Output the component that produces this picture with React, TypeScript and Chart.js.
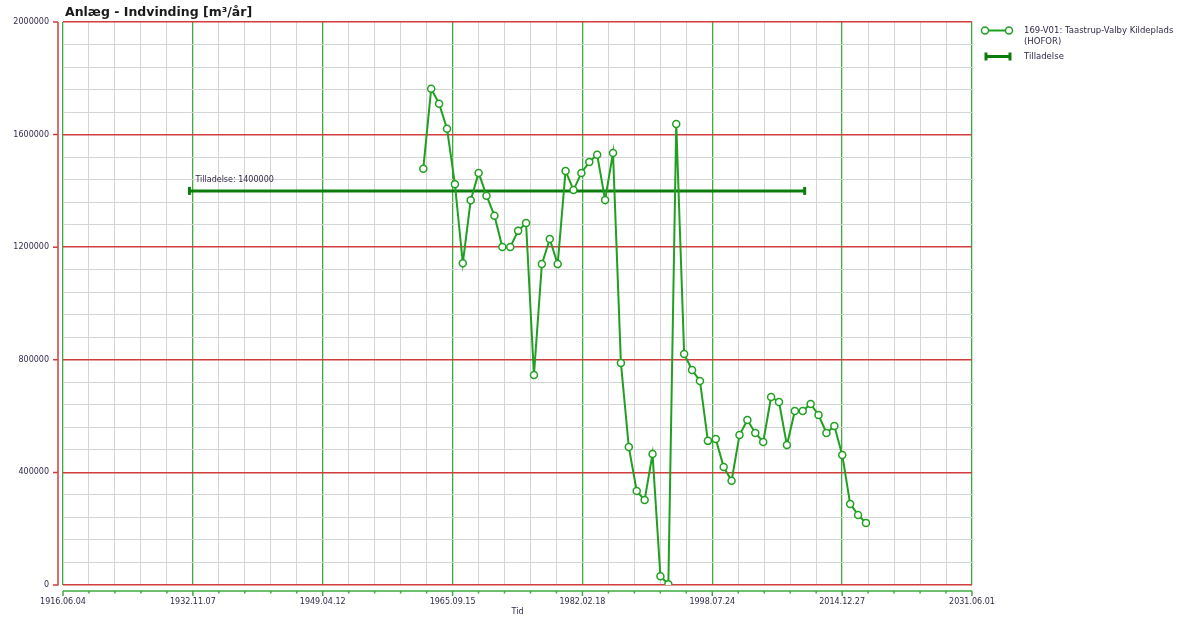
import React, { useEffect, useRef } from "react";
import { Chart, registerables } from "chart.js";

Chart.register(...registerables);

// ---- data ----
const years = [
  1962, 1963, 1964, 1965, 1966, 1967, 1968, 1969, 1970, 1971,
  1972, 1973, 1974, 1975, 1976, 1977, 1978, 1979, 1980, 1981,
  1982, 1983, 1984, 1985, 1986, 1987, 1988, 1989, 1990, 1991,
  1992, 1993, 1994, 1995, 1996, 1997, 1998, 1999, 2000, 2001,
  2002, 2003, 2004, 2005, 2006, 2007, 2008, 2009, 2010, 2011,
  2012, 2013, 2014, 2015, 2016, 2017, 2018,
];
const volumes = [
  1479000, 1763000, 1710000, 1621000, 1424000, 1143000, 1367000, 1464000, 1383000, 1312000,
  1201000, 1201000, 1258000, 1286000, 746000, 1140000, 1229000, 1140000, 1471000, 1403000,
  1464000, 1503000, 1528000, 1368000, 1535000, 789000, 490000, 334000, 302000, 465000,
  31000, 3000, 1638000, 821000, 764000, 725000, 512000, 519000, 419000, 370000,
  533000, 586000, 540000, 508000, 668000, 650000, 497000, 618000, 618000, 643000,
  604000, 540000, 565000, 462000, 288000, 249000, 220000,
];
const permitStart = [1932, 6, 1];
const permitEnd = [2010, 4, 1];
const permitValue = 1400000;

const yTickLabels = [0, 400000, 800000, 1200000, 1600000, 2000000];
const xTickLabels = [
  "1916.06.04", "1932.11.07", "1949.04.12", "1965.09.15",
  "1982.02.18", "1998.07.24", "2014.12.27", "2031.06.01",
];

const seriesName = "169-V01: Taastrup-Valby Kildeplads";
const seriesName2 = "(HOFOR)";
const permitName = "Tilladelse";
const titleText = "Anlæg - Indvinding [m³/år]";
const xTitle = "Tid";

// ---- helpers ----
const EPOCH = Date.UTC(1916, 5, 4);
const DAY = 86400000;
const dayOf = (y: number, m: number, d: number) => Math.round((Date.UTC(y, m - 1, d) - EPOCH) / DAY);
const X_MAX = 42000;
const X_STEP = 1200;

const RED = "#d23c3c";
const GREEN_GRID = "#3fab3f";
const GRAY = "#d4d4d4";
const LINE_GREEN = "#20a020";
const PERMIT_GREEN = "#0c7c0c";
const TEXT = "#33294a";
const FONT = "'DejaVu Sans', Verdana, sans-serif";

const axesPlugin = {
  id: "customAxes",
  afterDraw(chart: any) {
    const { ctx, chartArea, scales } = chart;
    const xs = scales.x;
    const ys = scales.y;
    ctx.save();
    // y axis line (offset left of plot)
    const ax = chartArea.left - 5;
    ctx.strokeStyle = RED;
    ctx.lineWidth = 1.5;
    ctx.beginPath();
    ctx.moveTo(ax, chartArea.top);
    ctx.lineTo(ax, chartArea.bottom + 0.5);
    yTickLabels.forEach((v) => {
      const py = ys.getPixelForValue(v);
      ctx.moveTo(ax - 5, py);
      ctx.lineTo(ax, py);
    });
    ctx.stroke();

    // x axis line (offset below plot)
    const ay = chartArea.bottom + 6;
    ctx.strokeStyle = GREEN_GRID;
    ctx.lineWidth = 1.5;
    ctx.beginPath();
    ctx.moveTo(chartArea.left, ay);
    ctx.lineTo(chartArea.right, ay);
    for (let i = 0; i * X_STEP <= X_MAX; i++) {
      const px = xs.getPixelForValue(i * X_STEP);
      const len = i % 5 === 0 ? 5 : 2.5;
      ctx.moveTo(px, ay);
      ctx.lineTo(px, ay + len);
    }
    ctx.stroke();

    // permit label
    const sx = xs.getPixelForValue(dayOf(permitStart[0], permitStart[1], permitStart[2]));
    const sy = ys.getPixelForValue(permitValue);
    ctx.fillStyle = TEXT;
    ctx.font = `8px ${FONT}`;
    ctx.textAlign = "left";
    ctx.textBaseline = "middle";
    ctx.fillText(`${permitName}: ${permitValue}`, sx + 6, sy - 11);
    ctx.restore();
  },
};

export default function App() {
  const canvasRef = useRef<HTMLCanvasElement | null>(null);

  useEffect(() => {
    const canvas = canvasRef.current;
    if (!canvas) return;
    Chart.defaults.font.family = FONT;

    const seriesData = years.map((y, i) => ({ x: dayOf(y, 1, 1), y: volumes[i] }));
    const permitData = [
      { x: dayOf(permitStart[0], permitStart[1], permitStart[2]), y: permitValue },
      { x: dayOf(permitEnd[0], permitEnd[1], permitEnd[2]), y: permitValue },
    ];

    const chart = new Chart(canvas, {
      type: "line",
      data: {
        datasets: [
          {
            label: seriesName,
            data: seriesData,
            borderColor: LINE_GREEN,
            borderWidth: 2,
            pointRadius: 3.5,
            pointBackgroundColor: "#ffffff",
            pointBorderColor: LINE_GREEN,
            pointBorderWidth: 1.5,
            tension: 0,
          },
          {
            label: permitName,
            data: permitData,
            borderColor: PERMIT_GREEN,
            borderWidth: 3,
            pointStyle: "line",
            rotation: 90,
            pointRadius: 4,
            pointBorderColor: PERMIT_GREEN,
            pointBorderWidth: 3,
            tension: 0,
          },
        ],
      },
      options: {
        animation: false,
        responsive: false,
        events: [],
        layout: { padding: { left: 0, right: 206, top: 22, bottom: 0 } },
        plugins: {
          legend: { display: false },
          title: { display: false },
          tooltip: { enabled: false },
        },
        scales: {
          x: {
            type: "linear",
            min: 0,
            max: X_MAX,
            border: { display: false },
            grid: {
              drawTicks: false,
              color: (c: any) => (c.index % 5 === 0 ? GREEN_GRID : GRAY),
              lineWidth: (c: any) => (c.index % 5 === 0 ? 1.3 : 1),
            },
            ticks: {
              stepSize: X_STEP,
              autoSkip: false,
              maxRotation: 0,
              minRotation: 0,
              padding: 12,
              color: TEXT,
              font: { size: 8, family: FONT },
              callback: (_v: any, i: number) => (i % 5 === 0 ? xTickLabels[i / 5] : ""),
            },
            title: {
              display: true,
              text: xTitle,
              color: TEXT,
              font: { size: 8, family: FONT },
              padding: { top: 0, bottom: 0 },
            },
            afterFit: (s: any) => {
              s.height = 32;
            },
          },
          y: {
            type: "linear",
            min: 0,
            max: 2000000,
            border: { display: false },
            grid: {
              drawTicks: false,
              color: (c: any) => (c.tick && c.tick.value % 400000 === 0 ? RED : GRAY),
              lineWidth: (c: any) => (c.tick && c.tick.value % 400000 === 0 ? 1.5 : 1),
            },
            ticks: {
              stepSize: 80000,
              autoSkip: false,
              padding: 14,
              color: TEXT,
              font: { size: 8, family: FONT },
              callback: (v: any) => (yTickLabels.includes(v) ? String(v) : ""),
            },
            afterFit: (s: any) => {
              s.width = 63;
            },
          },
        },
      },
      plugins: [axesPlugin],
    } as any);

    return () => chart.destroy();
  }, []);

  const legendText: React.CSSProperties = {
    position: "absolute",
    left: 1024,
    fontFamily: FONT,
    fontSize: 8.5,
    color: TEXT,
    lineHeight: "10px",
    whiteSpace: "nowrap",
  };

  return (
    <div
      style={{
        position: "fixed",
        left: 0,
        top: 0,
        width: 1178,
        height: 617,
        background: "#ffffff",
        overflow: "hidden",
      }}
    >
      <canvas ref={canvasRef} width={1178} height={617} style={{ position: "absolute", left: 0, top: 0 }} />
      <div
        style={{
          position: "absolute",
          left: 65,
          top: 4,
          fontFamily: FONT,
          fontWeight: "bold",
          fontSize: 12.5,
          color: "#1a1a1a",
          whiteSpace: "nowrap",
          lineHeight: "16px",
        }}
      >
        {titleText}
      </div>
      <svg style={{ position: "absolute", left: 978, top: 22 }} width={40} height={45}>
        <line x1={7} y1={8.5} x2={31} y2={8.5} stroke={LINE_GREEN} strokeWidth={2} />
        <circle cx={7} cy={8.5} r={3.5} fill="#fff" stroke={LINE_GREEN} strokeWidth={1.5} />
        <circle cx={31} cy={8.5} r={3.5} fill="#fff" stroke={LINE_GREEN} strokeWidth={1.5} />
        <line x1={8} y1={34.5} x2={32} y2={34.5} stroke={PERMIT_GREEN} strokeWidth={3} />
        <line x1={8} y1={30.5} x2={8} y2={38.5} stroke={PERMIT_GREEN} strokeWidth={3} />
        <line x1={32} y1={30.5} x2={32} y2={38.5} stroke={PERMIT_GREEN} strokeWidth={3} />
      </svg>
      <div style={{ ...legendText, top: 25 }}>{seriesName}</div>
      <div style={{ ...legendText, top: 36 }}>{seriesName2}</div>
      <div style={{ ...legendText, top: 51 }}>{permitName}</div>
    </div>
  );
}
